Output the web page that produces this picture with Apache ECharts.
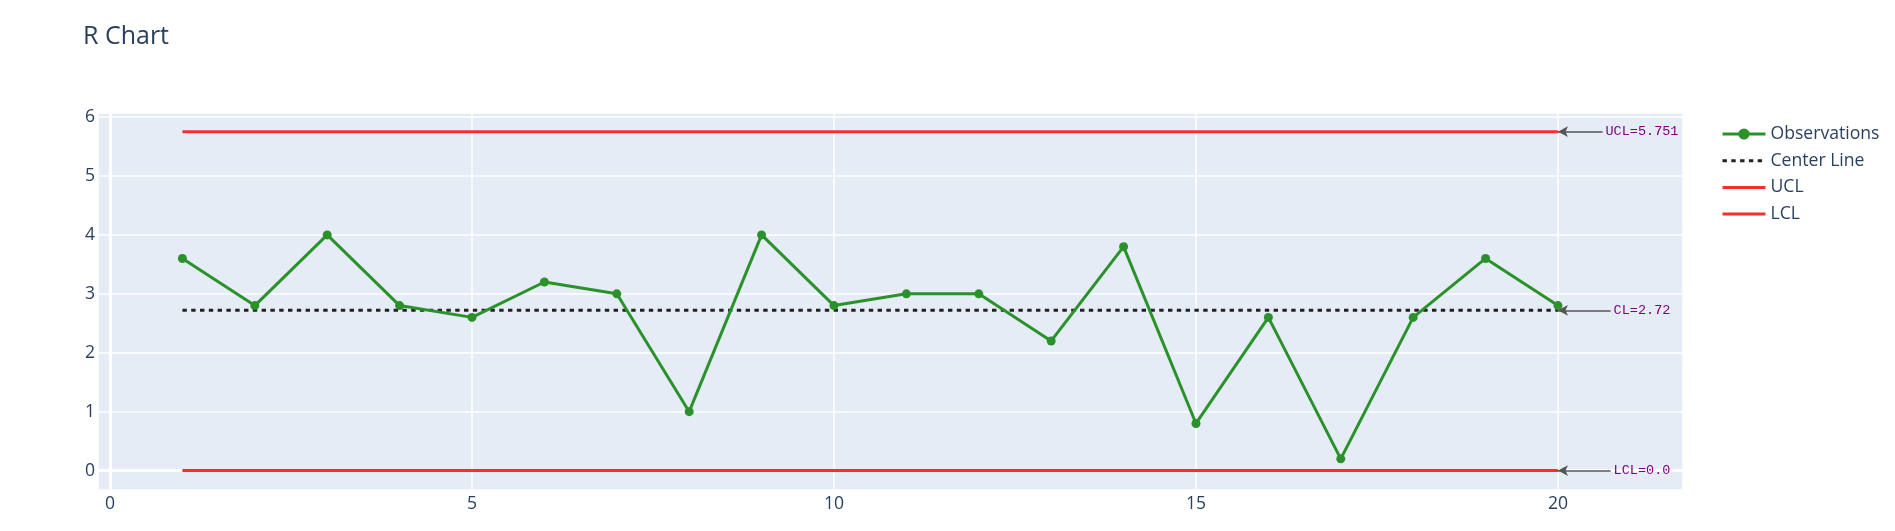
<!DOCTYPE html>
<html>
<head>
<meta charset="utf-8">
<style>
  html, body { margin: 0; padding: 0; background: #fff; }
  #chart { width: 1895px; height: 531px; }
</style>
<script src="https://cdn.jsdelivr.net/npm/echarts@6/dist/echarts.min.js"></script>
</head>
<body>
<div id="chart"></div>
<script>
// ---- data ----
const samples = [1, 2, 3, 4, 5, 6, 7, 8, 9, 10, 11, 12, 13, 14, 15, 16, 17, 18, 19, 20];
const ranges = [3.6, 2.8, 4.0, 2.8, 2.6, 3.2, 3.0, 1.0, 4.0, 2.8, 3.0, 3.0, 2.2, 3.8, 0.8, 2.6, 0.2, 2.6, 3.6, 2.8];
const centerLine = 2.72;
const ucl = 5.751;
const lcl = 0.0;
const annotationLabels = ['UCL=5.751', 'CL=2.72', 'LCL=0.0'];
const seriesNames = ['Observations', 'Center Line', 'UCL', 'LCL'];

// ---- layout / style ----
const FONT = '"Open Sans", verdana, arial, sans-serif';
const MONO = '"Courier New", "Liberation Mono", monospace';
const TXT = '#2a3f5f';
const grid = { left: 98, top: 113, width: 1585, height: 377 };
const xMin = -0.166, xMax = 21.727;
const yMin = -0.329, yMax = 6.068;
const pxPerX = grid.width / (xMax - xMin);
const annFont = 13.5;
const annCenterPx = 84;

const xFirst = samples[0], xLast = samples[samples.length - 1];

function annotation(value, text) {
  const halfW = text.length * 0.6 * annFont / 2;
  const tailPx = annCenterPx - halfW - 3;
  return {
    silent: true,
    animation: false,
    z: 8,
    symbol: ['arrow', 'none'],
    symbolSize: [8, 10],
    lineStyle: { color: '#555', width: 1.5, type: 'solid' },
    label: {
      show: true, position: 'end', distance: 3,
      formatter: text, color: '#800080',
      fontFamily: MONO, fontSize: annFont
    },
    emphasis: { disabled: true },
    data: [[
      { coord: [xLast, value] },
      { coord: [xLast + tailPx / pxPerX, value] }
    ]]
  };
}

const obsData = samples.map((s, i) => [s, ranges[i]]);
const limitLine = v => [[xFirst, v], [xLast, v]];

const chart = echarts.init(document.getElementById('chart'), null, { renderer: 'canvas' });
chart.setOption({
  animation: false,
  backgroundColor: '#fff',
  textStyle: { fontFamily: FONT },
  title: {
    text: 'R Chart', left: 78, top: 19,
    textStyle: { fontFamily: FONT, fontSize: 25, fontWeight: 'normal', color: TXT }
  },
  legend: {
    orient: 'vertical', left: 1721, top: 124, padding: 0,
    itemWidth: 43, itemHeight: 14, itemGap: 6.7,
    lineStyle: { width: 3 },
    data: [
      { name: seriesNames[0] },
      { name: seriesNames[1], itemStyle: { opacity: 0 } },
      { name: seriesNames[2], itemStyle: { opacity: 0 } },
      { name: seriesNames[3], itemStyle: { opacity: 0 } }
    ],
    textStyle: { fontFamily: FONT, fontSize: 17.6, color: TXT, lineHeight: 20 }
  },
  grid: Object.assign({ show: true, backgroundColor: '#E5ECF6', borderWidth: 0 }, grid),
  xAxis: {
    type: 'value', min: xMin, max: xMax,
    axisLine: { show: false }, axisTick: { show: false },
    axisLabel: { color: TXT, fontFamily: FONT, fontSize: 17.6, margin: 5, showMinLabel: false, showMaxLabel: false },
    splitLine: { show: true, lineStyle: { color: '#fff', width: 1.5 } }
  },
  yAxis: {
    type: 'value', min: yMin, max: yMax,
    axisLine: { show: false }, axisTick: { show: false },
    axisLabel: { color: TXT, fontFamily: FONT, fontSize: 17.6, margin: 3, showMinLabel: false, showMaxLabel: false },
    splitLine: { show: true, lineStyle: { color: '#fff', width: 1.5 } }
  },
  series: [
    {
      name: 'zero', type: 'line', data: [], z: 1, silent: true,
      markLine: {
        silent: true, animation: false, z: 1, symbol: ['none', 'none'],
        label: { show: false },
        lineStyle: { color: '#fff', width: 3, type: 'solid' },
        emphasis: { disabled: true },
        data: [{ xAxis: 0 }, { yAxis: 0 }]
      }
    },
    {
      name: 'Observations', type: 'line', data: obsData, z: 5,
      symbol: 'circle', symbolSize: 9, showSymbol: true,
      lineStyle: { color: '#2b912b', width: 3 },
      itemStyle: { color: '#2b912b' }
    },
    {
      name: 'Center Line', type: 'line', data: limitLine(centerLine), z: 3,
      symbol: 'none', showSymbol: false,
      lineStyle: { color: '#222', width: 3, type: [4.4, 4.4] },
      itemStyle: { color: '#222' },
      markLine: annotation(centerLine, annotationLabels[1])
    },
    {
      name: 'UCL', type: 'line', data: limitLine(ucl), z: 3,
      symbol: 'none', showSymbol: false,
      lineStyle: { color: '#f52e2e', width: 3 },
      itemStyle: { color: '#f52e2e' },
      markLine: annotation(ucl, annotationLabels[0])
    },
    {
      name: 'LCL', type: 'line', data: limitLine(lcl), z: 3,
      symbol: 'none', showSymbol: false,
      lineStyle: { color: '#f52e2e', width: 3 },
      itemStyle: { color: '#f52e2e' },
      markLine: annotation(lcl, annotationLabels[2])
    }
  ]
});
</script>
</body>
</html>
